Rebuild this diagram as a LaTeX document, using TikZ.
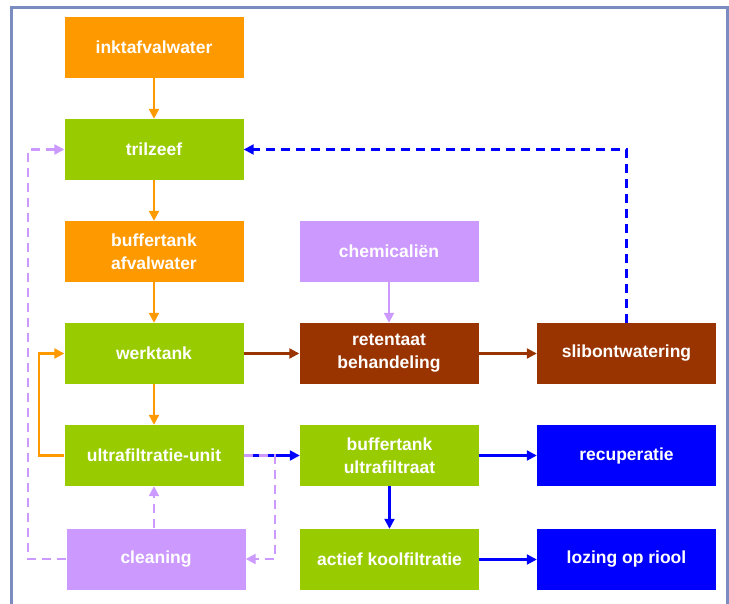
\documentclass[tikz,border=0pt]{standalone}
\usepackage{fontspec}
\setmainfont{Liberation Sans}
\usetikzlibrary{arrows.meta}
\definecolor{oranje}{HTML}{FF9900}
\definecolor{groen}{HTML}{99CC00}
\definecolor{lila}{HTML}{CC99FF}
\definecolor{bruin}{HTML}{993300}
\definecolor{blauw}{HTML}{0000FF}
\definecolor{kader}{HTML}{7B8CC0}

\begin{document}
\begin{tikzpicture}[x=1pt, y=-1pt,
    stap/.style={rectangle, minimum width=179pt, minimum height=61pt, inner sep=0pt,
      text=white, align=center, font=\bfseries\fontsize{17.5}{23}\selectfont},
    pijl/.style={line width=2.2pt, -{Triangle[length=10pt,width=10pt]}},
    stippel/.style={pijl, dash pattern=on 9pt off 6pt}]
    \useasboundingbox (0,0) rectangle (729,604);
    \draw[kader, line width=3pt] (11,604) -- (11,8) -- (727.5,8) -- (727.5,604);

    \begin{scope}[every node/.style={stap}]
      \node[fill=oranje] (ink) at (154,47.5) {inktafvalwater};
      \node[fill=groen] (tril) at (154,149.5) {trilzeef};
      \node[fill=oranje] (buf) at (154,251.5) {buffertank\\afvalwater};
      \node[fill=groen] (werk) at (154,353.5) {werktank};
      \node[fill=groen] (uf) at (154,455.5) {ultrafiltratie-unit};
      \node[fill=lila] (clean) at (156,559) {cleaning};

      \node[fill=lila] (chem) at (389,251.5) {chemicaliën};
      \node[fill=bruin] (ret) at (389,353.5) {retentaat\\behandeling};
      \node[fill=groen] (bufuf) at (389.5,455.5) {buffertank\\ultrafiltraat};
      \node[fill=groen] (akf) at (389.5,559.5) {actief koolfiltratie};

      \node[fill=bruin] (slib) at (626.5,353.5) {slibontwatering};
      \node[fill=blauw] (recup) at (626.5,455.5) {recuperatie};
      \node[fill=blauw] (lozing) at (626.5,559.5) {lozing op riool};
    \end{scope}

  \draw[pijl, oranje] (ink)--(tril);
  \draw[pijl, oranje] (tril)--(buf);
  \draw[pijl, oranje] (buf)--(werk);
  \draw[pijl, oranje] (werk)--(uf);
  \draw[pijl, oranje] (uf.west) -- ++(-25,0) |- (werk.west);

  \draw[pijl, bruin] (werk)--(ret);
  \draw[pijl, bruin] (ret)--(slib);
  \draw[pijl, lila] (chem)--(ret);
  \draw[stippel, blauw] (slib.north) |- (tril.east);

  \draw[pijl, blauw] (uf)--(bufuf);
  \draw[pijl, blauw] (bufuf)--(recup);
  \draw[pijl, blauw] (bufuf)--(akf);
  \draw[pijl, blauw] (akf)--(lozing);

  \draw[stippel, lila] (clean.west) -- ++(-38,0) |- (tril.west);
  \draw[stippel, lila] (uf.south |- clean.north) -- (uf.south);
  \draw[stippel, lila] (uf.east) -- ++(31,0) |- (clean.east);
\end{tikzpicture}
\end{document}
